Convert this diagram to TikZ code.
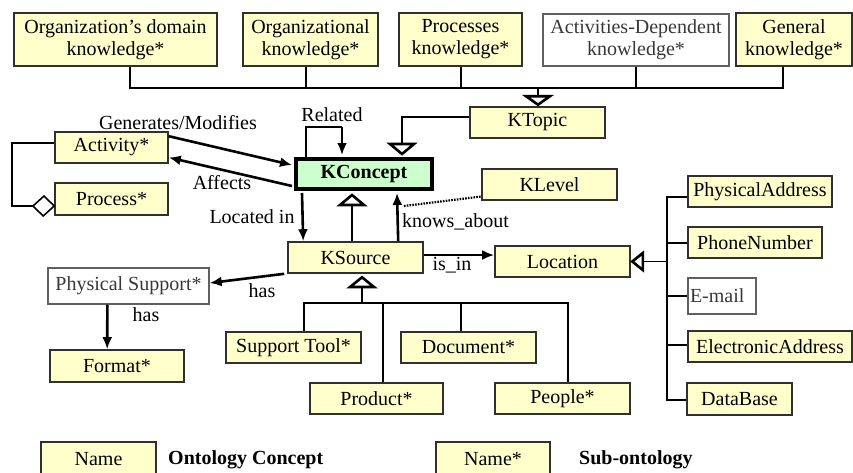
\documentclass[tikz,border=0pt]{standalone}
\usepackage{fontspec}
\setmainfont{Liberation Serif}
\usetikzlibrary{arrows.meta,calc}
\definecolor{yfill}{HTML}{FFFFCC}
\definecolor{gfill}{HTML}{CCFFCC}
\definecolor{bord}{HTML}{303030}
\definecolor{wbord}{HTML}{606060}
\begin{document}
\begin{tikzpicture}[x=1pt,y=-1pt,
  font=\fontsize{20}{22}\selectfont,
  box/.style={draw=bord, line width=1.6pt, fill=yfill, inner sep=0pt, align=center, text=black},
  wbox/.style={box, fill=white, draw=wbord, line width=1.3pt, text=black!78},
  conn/.style={line width=1.8pt, draw=black},
  rel/.style={line width=2.6pt, -{Latex[length=12pt,width=10pt]}},
  genz/.style={draw=black, fill=white, line width=2.6pt},
  lbl/.style={inner sep=0pt},
  dotline/.style={line width=2.2pt, dash pattern=on 1.6pt off 1.2pt},
  legtext/.style={inner sep=0pt, anchor=west, font=\fontsize{20}{22}\selectfont\bfseries}
]
\useasboundingbox (0,0) rectangle (853,472);
\clip (0,0) rectangle (853,472);

% ---- top row
\node[box, minimum width=203pt, minimum height=53pt] (dom) at (115.5,39.5) {Organization’s domain\\knowledge*};
\node[box, minimum width=135pt, minimum height=53pt] (orgk) at (310.5,39.5) {Organizational\\knowledge*};
\node[box, minimum width=123pt, minimum height=53pt] (proc) at (460.5,39.5) {Processes\\knowledge*};
\node[wbox, minimum width=186pt, minimum height=52pt] (actd) at (636,40) {Activities-Dependent\\knowledge*};
\node[box, minimum width=116pt, minimum height=53pt] (gen) at (794,39.5) {General\\knowledge*};

% ---- middle
\node[box, minimum width=135pt, minimum height=31pt] (ktopic) at (537.5,122.5) {KTopic};
\node[box, fill=gfill, draw=black, line width=4pt, minimum width=136pt, minimum height=30pt,
      font=\fontsize{20}{22}\selectfont\bfseries] (kconcept) at (364,174) {KConcept};
\node[box, minimum width=113pt, minimum height=31pt] (activity) at (111.5,147.5) {Activity*};
\node[box, minimum width=113pt, minimum height=32pt] (process) at (111.5,199) {Process*};
\node[box, minimum width=135pt, minimum height=31pt] (klevel) at (549.5,184.5) {KLevel};
\node[box, minimum width=135pt, minimum height=31pt] (ksource) at (355.5,257.5) {KSource};
\node[box, minimum width=135pt, minimum height=31pt] (location) at (562.5,261.5) {Location};
\node[wbox, minimum width=161pt, minimum height=36pt] (physsup) at (128.5,286) {Physical Support*};
\node[box, minimum width=134pt, minimum height=32pt] (format) at (117,366) {Format*};

% ---- right column
\node[box, minimum width=144pt, minimum height=31pt] (physaddr) at (760,191.5) {PhysicalAddress};
\node[box, minimum width=134pt, minimum height=31pt] (phone) at (755,242.5) {PhoneNumber};
\node[wbox, minimum width=68pt, minimum height=36pt, text width=64pt, align=left] (email) at (722,296) {E-mail};
\node[box, minimum width=164pt, minimum height=31pt] (eaddr) at (770,346.5) {ElectronicAddress};
\node[box, minimum width=105pt, minimum height=32pt] (database) at (739.5,399) {DataBase};

% ---- KSource children
\node[box, minimum width=135pt, minimum height=31pt] (supptool) at (293.5,347.5) {Support Tool*};
\node[box, minimum width=135pt, minimum height=31pt] (document) at (468.5,347.5) {Document*};
\node[box, minimum width=133pt, minimum height=31pt] (product) at (376.5,398.5) {Product*};
\node[box, minimum width=135pt, minimum height=31pt] (people) at (562.5,398.5) {People*};

% ---- legend
\node[box, minimum width=115pt, minimum height=34pt] (lname) at (98.5,459) {Name};
\node[legtext] (lconcept) at (168,460) {Ontology Concept};
\node[box, minimum width=114pt, minimum height=34pt] (lnames) at (493,459) {Name*};
\node[legtext] (lsub) at (579,460) {Sub-ontology};

% ---- top tree to KTopic
\coordinate (b1) at (130,88);
\coordinate (b2) at (306,88);
\coordinate (b3) at (461,88);
\coordinate (b4) at (636,88);
\coordinate (b5) at (783,88);
\coordinate (bt) at (538,88);
\draw[conn] (b1 |- dom.south) -- (b1) -- (b5) -- (b5 |- gen.south);
\draw[conn] (b2 |- orgk.south) -- (b2);
\draw[conn] (b3 |- proc.south) -- (b3);
\draw[conn] (b4 |- actd.south) -- (b4);
\draw[conn] (bt) -- ($(bt |- ktopic.north)+(0,-10)$);
\draw[genz] ($(bt |- ktopic.north)+(-12,-10)$) -- ++(24,0) -- ($(bt |- ktopic.north)+(0,-1.5)$) -- cycle;

% ---- KTopic to KConcept
\coordinate (kt) at (402,117);
\draw[conn] (ktopic.west |- kt) -- (kt) -- ($(kt |- kconcept.north)+(0,-13)$);
\draw[genz] ($(kt |- kconcept.north)+(-12,-13)$) -- ++(24,0) -- ($(kt |- kconcept.north)+(0,-3)$) -- cycle;

% ---- Related self loop
\coordinate (r1) at (306,127);
\coordinate (r2) at (342,127);
\draw[line width=1.8pt] (r1 |- kconcept.north) -- (r1) -- (r2);
\draw[rel] (r2) -- ($(r2 |- kconcept.north)+(0,-2)$);
\node[lbl] (lrelated) at (332,115) {Related};

% ---- Activity <-> KConcept
\draw[rel] ($(activity.north east)+(0,5)$) -- ($(kconcept.west)+(-2,-9)$);
\node[lbl] (lgenmod) at (178,123) {Generates/Modifies};
\draw[rel] ($(kconcept.west)+(-2,12)$) -- ($(activity.east)+(0,10)$);
\node[lbl] (laffects) at (222,183) {Affects};

% ---- Activity / Process aggregation
\coordinate (ag1) at (12,143);
\coordinate (ag2) at (12,206);
\coordinate (dm) at (33,206);
\draw[conn] ($(activity.west)+(0,-4.5)$) -- (ag1) -- (ag2) -- (dm);
\draw[line width=1.6pt, fill=white] (dm) -- ++(11,-10) -- ($(process.west)+(0,7)$) -- ++(-11,10) -- cycle;

% ---- KConcept <-> KSource
\draw[rel] ($(kconcept.south west)+(8,2)$) -- ($(ksource.north west)+(16,0)$);
\node[lbl] (llocated) at (252,217) {Located in};
\coordinate (ih) at (352,205);
\draw[conn] (ih |- ksource.north) -- (ih);
\draw[genz] ($(ih)+(-12,0)$) -- ++(24,0) -- ($(ih |- kconcept.south)+(0,4)$) -- cycle;
\draw[rel] ($(ksource.north west)+(111,0)$) -- ($(kconcept.south west)+(103,2)$);
\node[lbl, anchor=west] (lknows) at (402,222) {knows\_about};

% ---- KLevel dotted
\draw[dotline] ($(kconcept.south east)+(-30,15)$) -- ($(klevel.west)+(0,12)$);

% ---- KSource -> Location
\draw[rel] ($(ksource.east)+(0,-2.5)$) -- ($(location.west)+(0,-6.5)$);
\node[lbl] (lisin) at (452,265) {is\_in};

% ---- KSource -> Physical Support -> Format
\draw[rel] ($(ksource.south west)+(-3,0)$) -- ($(physsup.east)+(0,-3)$);
\node[lbl] (lhas1) at (262,291) {has};
\draw[rel] ($(physsup.south west)+(60,0)$) -- ($(format.north west)+(58,0)$);
\node[lbl] (lhas2) at (146,315) {has};

% ---- KSource children tree
\coordinate (s0) at (362,303);
\coordinate (s1) at (304,303);
\coordinate (s2) at (383,303);
\coordinate (s3) at (461,303);
\coordinate (s4) at (568,303);
\draw[conn] (s0) -- ++(0,-16);
\draw[genz] ($(s0)+(-12,-16)$) -- ++(24,0) -- ($(s0 |- ksource.south)+(0,3.5)$) -- cycle;
\draw[conn] (s1 |- supptool.north) -- (s1) -- (s4) -- (s4 |- people.north);
\draw[conn] (s2) -- (s2 |- product.north);
\draw[conn] (s3) -- (s3 |- document.north);

% ---- Location tree
\coordinate (lv) at (667,261.5);
\coordinate (v1) at (667,197);
\coordinate (v2) at (667,243);
\coordinate (v3) at (667,296);
\coordinate (v4) at (667,345);
\coordinate (v5) at (667,400);
\draw[conn] ($(location.east)+(12,0)$) -- (lv);
\draw[genz] ($(location.east)+(12,-8.5)$) -- ++(0,17) -- ($(location.east)+(1.5,0)$) -- cycle;
\draw[conn] (physaddr.west |- v1) -- (v1) -- (v5) -- (database.west |- v5);
\draw[conn] (v2) -- (phone.west |- v2);
\draw[conn] (v3) -- (email.west |- v3);
\draw[conn] (v4) -- (eaddr.west |- v4);
\end{tikzpicture}
\end{document}
